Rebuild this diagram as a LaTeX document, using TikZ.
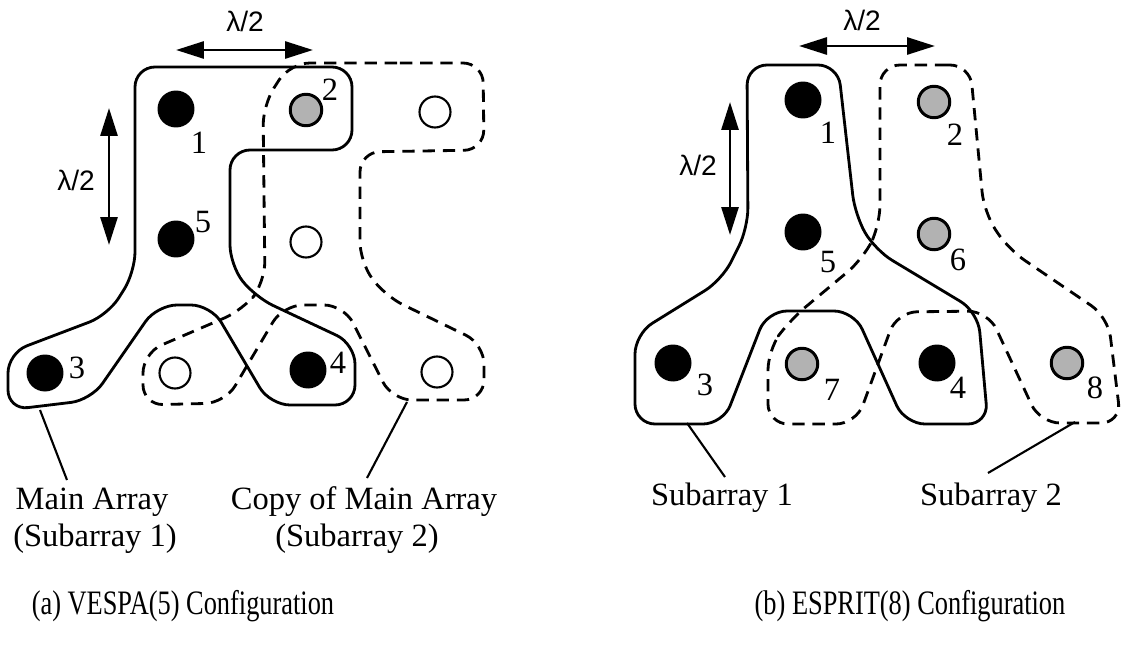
\documentclass[tikz,border=0pt]{standalone}
\usepackage{fontspec}
\setmainfont{Liberation Serif}
\newfontfamily\lamfont{Liberation Sans}
\newfontfamily\capfont[FakeStretch=0.77]{Liberation Serif}
\usetikzlibrary{arrows.meta}
\begin{document}
\begin{tikzpicture}[x=0.02cm,y=-0.02cm,
  bdot/.style={circle,fill=black,inner sep=0pt,minimum size=0.74cm},
  gdot/.style={circle,draw=black,line width=1.7pt,fill=gray!60,inner sep=0pt,minimum size=0.63cm},
  edot/.style={circle,draw=black,line width=1.2pt,fill=white,inner sep=0pt,minimum size=0.62cm},
  num/.style={font=\fontsize{18.5}{22}\selectfont,inner sep=0pt},
  lbl/.style={font=\fontsize{18.5}{22}\selectfont,inner sep=0pt,anchor=base},
  captext/.style={font=\capfont\fontsize{19.5}{22}\selectfont,inner sep=0pt,anchor=base},
  lam/.style={font=\lamfont\fontsize{16}{18}\selectfont,inner sep=0pt},
  dim/.style={line width=1.6pt,{Triangle[length=0.56cm,width=0.34cm]}-{Triangle[length=0.56cm,width=0.34cm]}},
  outl/.style={line width=1.6pt,rounded corners=0.4cm,line join=round},
  outd/.style={outl,dash pattern=on 7pt off 4.5pt},
  lead/.style={line width=1.2pt}]
\useasboundingbox (0,0) rectangle (1123,649);

% ---------------- (a) VESPA ----------------
\draw[outl] (240,67) -- (352,67) -- (352,150) -- (230,150) -- (230,265) -- (255,297) -- (355,344)
  -- (355,405) -- (270,405) -- (211,305) -- (157,305) -- (91,400) -- (8,410)
  -- (8,353) -- (108,315) -- (135,272) -- (135,67) -- cycle;
\draw[outd] (380,63) -- (483,63) -- (484,150) -- (360,152) -- (360,262) -- (385,296) -- (484,344)
  -- (484,400) -- (392,400) -- (344,305) -- (283,305) -- (225,403) -- (143,405)
  -- (143,353) -- (243,310) -- (265,282) -- (263,105) -- (290,63) -- cycle;

\node[bdot] (a1) at (176,109) {};
\node[gdot] (a2) at (306,110) {};
\node[edot] (a2c) at (435,112) {};
\node[bdot] (a5) at (176,239) {};
\node[edot] (a5c) at (306,242) {};
\node[bdot] (a3) at (45,373) {};
\node[edot] (a3c) at (175,373) {};
\node[bdot] (a4) at (308,370) {};
\node[edot] (a4c) at (437,372) {};

\node[num] (na1) at (199,143) {1};
\node[num] (na2) at (330,90) {2};
\node[num] (na5) at (203,222) {5};
\node[num] (na3) at (77,368) {3};
\node[num] (na4) at (338,363) {4};

\coordinate (ahl) at (176,50);
\coordinate (ahr) at (313,50);
\draw[dim] (ahl) -- (ahr);
\node[lam] (lah) at (245,21) {λ/2};
\coordinate (avt) at (109,108);
\coordinate (avb) at (109,245);
\draw[dim] (avt) -- (avb);
\node[lam] (lav) at (76,180) {λ/2};

\coordinate (la1s) at (40,410);
\coordinate (la1e) at (67,480);
\draw[lead] (la1s) -- (la1e);
\coordinate (la2s) at (407,402);
\coordinate (la2e) at (367,478);
\draw[lead] (la2s) -- (la2e);

\node[lbl] (tMain) at (92,509) {Main Array};
\node[lbl] (tSubA1) at (95,546) {(Subarray 1)};
\node[lbl] (tCopy) at (364,509) {Copy of Main Array};
\node[lbl] (tSubA2) at (357,546) {(Subarray 2)};
\node[captext] (capa) at (183,614) {(a) VESPA(5) Configuration};

% ---------------- (b) ESPRIT ----------------
\draw[outl] (790,65) -- (838,65) -- (855,215) -- (875,250) -- (978,312) -- (988,424) -- (905,424)
  -- (854,311) -- (767,311) -- (723,424) -- (635,424) -- (635,334) -- (722,280) -- (748,228)
  -- (747,65) -- cycle;
\draw[outd] (925,65) -- (970,65) -- (984,212) -- (1008,249) -- (1108,317) -- (1121,423) -- (1040,423)
  -- (988,311) -- (897,312) -- (856,424) -- (768,424) -- (768,350) -- (790,320) -- (863,259)
  -- (880,225) -- (880,65) -- cycle;

\node[bdot] (b1) at (803,100) {};
\node[gdot] (b2) at (934,102) {};
\node[bdot] (b5) at (803,232) {};
\node[gdot] (b6) at (934,234) {};
\node[bdot] (b3) at (673,363) {};
\node[gdot] (b7) at (802,364) {};
\node[bdot] (b4) at (937,363) {};
\node[gdot] (b8) at (1067,363) {};

\node[num] (nb1) at (828,133) {1};
\node[num] (nb2) at (955,135) {2};
\node[num] (nb5) at (828,262) {5};
\node[num] (nb6) at (958,260) {6};
\node[num] (nb3) at (705,385) {3};
\node[num] (nb7) at (832,390) {7};
\node[num] (nb4) at (958,388) {4};
\node[num] (nb8) at (1095,388) {8};

\coordinate (bhl) at (799,46);
\coordinate (bhr) at (935,46);
\draw[dim] (bhl) -- (bhr);
\node[lam] (lbh) at (862,20) {λ/2};
\coordinate (bvt) at (730,102);
\coordinate (bvb) at (730,235);
\draw[dim] (bvt) -- (bvb);
\node[lam] (lbv) at (698,165) {λ/2};

\coordinate (lb1s) at (687,423);
\coordinate (lb1e) at (725,477);
\draw[lead] (lb1s) -- (lb1e);
\coordinate (lb2s) at (1075,422);
\coordinate (lb2e) at (988,473);
\draw[lead] (lb2s) -- (lb2e);

\node[lbl] (tR1) at (722,505) {Subarray 1};
\node[lbl] (tR2) at (991,505) {Subarray 2};
\node[captext] (capb) at (910,614) {(b) ESPRIT(8) Configuration};
\end{tikzpicture}
\end{document}
